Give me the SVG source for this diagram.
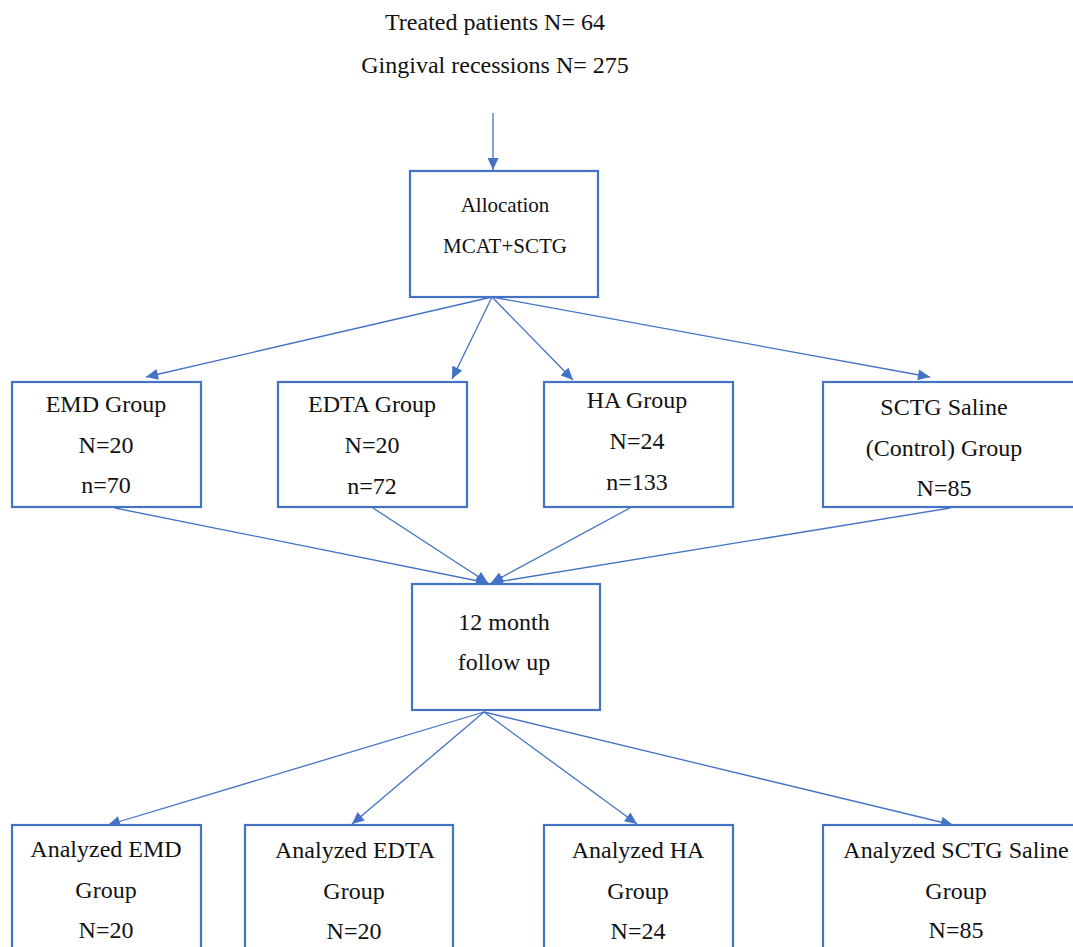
<svg xmlns="http://www.w3.org/2000/svg" width="1073" height="947" viewBox="0 0 1073 947">
<style>
.box{fill:#fff;stroke:#4472C4;stroke-width:2.2}
.t{font-family:"Liberation Serif","Times New Roman",serif;font-size:24px;fill:#111;text-anchor:middle}
.s{font-size:21px}
.c{stroke:#4472C4;stroke-width:1.3;fill:none;marker-end:url(#ah)}
</style>
<defs>
<marker id="ah" viewBox="0 0 12 11" refX="12" refY="5.5" markerWidth="13" markerHeight="11" markerUnits="userSpaceOnUse" orient="auto">
<path d="M0,0 L12,5.5 L0,11 Z" fill="#4472C4"/>
</marker>
</defs>
<rect width="1073" height="947" fill="#fff"/>
<g id="header">
<text class="t" x="495" y="30">Treated patients N= 64</text>
<text class="t" x="495" y="73">Gingival recessions N= 275</text>
</g>
<g id="connectors">
<line class="c" x1="493" y1="113" x2="493" y2="170"/>
<line class="c" x1="492" y1="297" x2="146" y2="377"/>
<line class="c" x1="492" y1="297" x2="452" y2="379"/>
<line class="c" x1="492" y1="297" x2="573" y2="380"/>
<line class="c" x1="492" y1="297" x2="930" y2="377"/>
<line class="c" x1="115" y1="508" x2="488" y2="583"/>
<line class="c" x1="373" y1="508" x2="488" y2="583"/>
<line class="c" x1="630" y1="508" x2="491" y2="583"/>
<line class="c" x1="950" y1="508" x2="491" y2="583"/>
<line class="c" x1="484" y1="712" x2="108" y2="825"/>
<line class="c" x1="484" y1="712" x2="352" y2="824"/>
<line class="c" x1="484" y1="712" x2="637" y2="824"/>
<line class="c" x1="484" y1="712" x2="953" y2="825"/>
</g>
<g id="allocation">
<rect class="box" x="410" y="171" width="188" height="126"/>
<text class="t s" x="505" y="212">Allocation</text>
<text class="t s" x="505" y="253">MCAT+SCTG</text>
</g>
<g id="emd">
<rect class="box" x="12" y="382" width="189" height="125"/>
<text class="t" x="106" y="412">EMD Group</text>
<text class="t" x="106" y="453">N=20</text>
<text class="t" x="106" y="493">n=70</text>
</g>
<g id="edta">
<rect class="box" x="278" y="382" width="189" height="125"/>
<text class="t" x="372" y="412">EDTA Group</text>
<text class="t" x="372" y="453">N=20</text>
<text class="t" x="372" y="494">n=72</text>
</g>
<g id="ha">
<rect class="box" x="544" y="382" width="189" height="125"/>
<text class="t" x="637" y="408">HA Group</text>
<text class="t" x="637" y="449">N=24</text>
<text class="t" x="637" y="490">n=133</text>
</g>
<g id="sctg">
<rect class="box" x="823" y="382" width="260" height="125"/>
<text class="t" x="944" y="415">SCTG Saline</text>
<text class="t" x="944" y="456">(Control) Group</text>
<text class="t" x="944" y="496">N=85</text>
</g>
<g id="followup">
<rect class="box" x="412" y="584" width="188" height="126"/>
<text class="t" x="504" y="630">12 month</text>
<text class="t" x="504" y="670">follow up</text>
</g>
<g id="an-emd">
<rect class="box" x="12" y="825" width="189" height="140"/>
<text class="t" x="106" y="857">Analyzed EMD</text>
<text class="t" x="106" y="898">Group</text>
<text class="t" x="106" y="938">N=20</text>
</g>
<g id="an-edta">
<rect class="box" x="245" y="825" width="208" height="140"/>
<text class="t" x="355" y="858">Analyzed EDTA</text>
<text class="t" x="354" y="899">Group</text>
<text class="t" x="354" y="939">N=20</text>
</g>
<g id="an-ha">
<rect class="box" x="544" y="825" width="189" height="140"/>
<text class="t" x="638" y="858">Analyzed HA</text>
<text class="t" x="638" y="899">Group</text>
<text class="t" x="638" y="939">N=24</text>
</g>
<g id="an-sctg">
<rect class="box" x="823" y="825" width="260" height="140"/>
<text class="t" x="956" y="858">Analyzed SCTG Saline</text>
<text class="t" x="956" y="899">Group</text>
<text class="t" x="956" y="938">N=85</text>
</g>
</svg>
